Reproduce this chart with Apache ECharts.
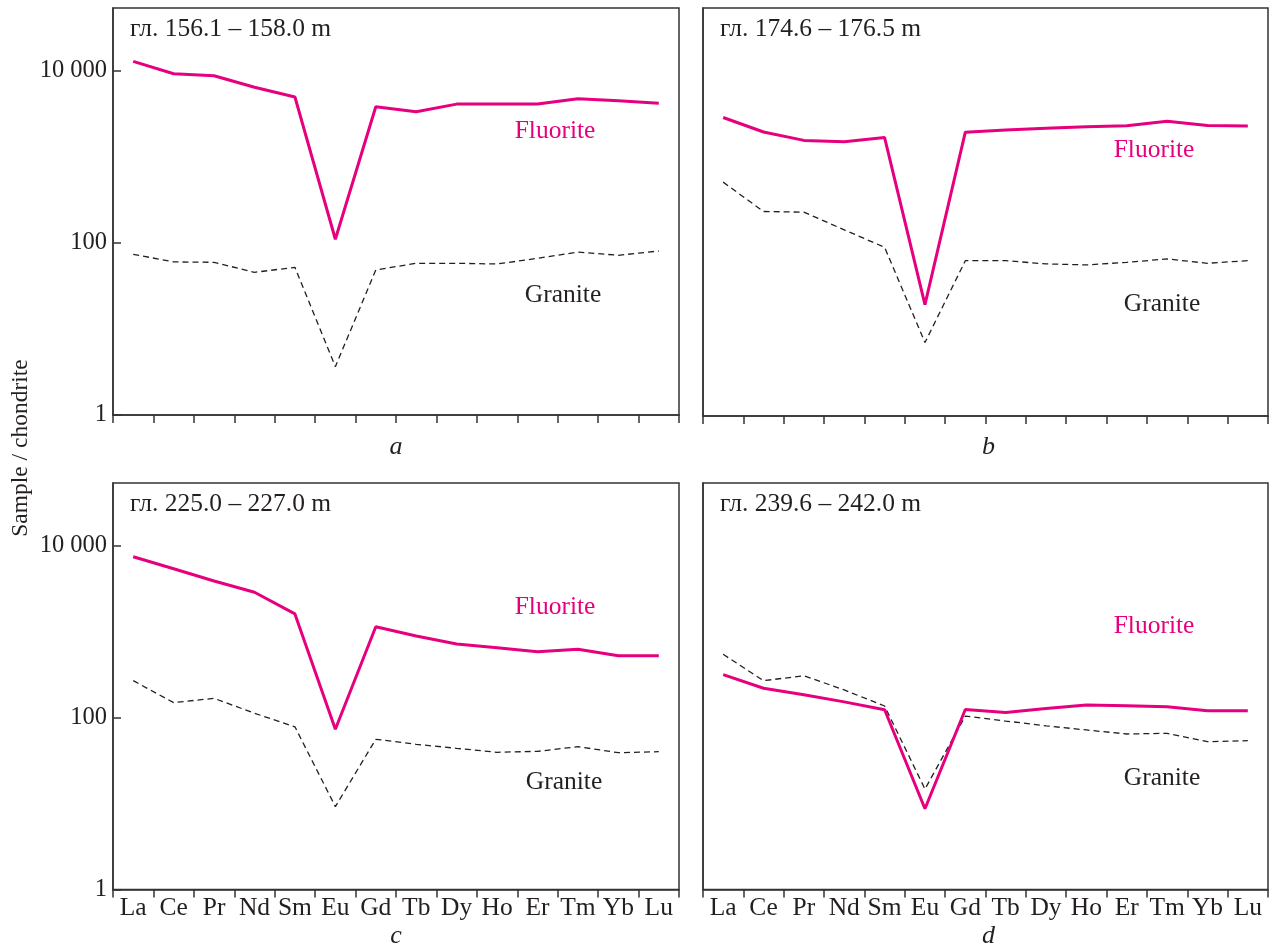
<!DOCTYPE html>
<html><head><meta charset="utf-8">
<script src="https://cdn.jsdelivr.net/npm/echarts@6/dist/echarts.min.js"></script>
<style>html,body{margin:0;padding:0;background:#fff}#c{width:1276px;height:950px}</style>
</head><body><div id="c"></div>
<script>
const categories = ['La','Ce','Pr','Nd','Sm','Eu','Gd','Tb','Dy','Ho','Er','Tm','Yb','Lu'];
const fluoriteA = [12800, 9200, 8700, 6400, 4930, 110, 3800, 3320, 4080, 4080, 4080, 4720, 4470, 4170];
const graniteA  = [73.5, 60, 59.3, 45.4, 51.9, 3.64, 48.3, 57.8, 57.8, 56.7, 66, 78, 71.6, 80.3];
const fluoriteB = [2870, 1950, 1560, 1500, 1680, 19.5, 1940, 2060, 2150, 2240, 2300, 2600, 2315, 2290];
const graniteB  = [512, 234, 230, 143.5, 90, 7.1, 63, 63, 57.8, 56.3, 60.3, 66, 58.8, 63];
const fluoriteC = [7400, 5370, 3870, 2860, 1600, 73, 1137, 887, 716, 648, 582, 621, 523, 523];
const graniteC  = [268, 149, 167, 112, 78, 9.2, 55.8, 48.8, 43.8, 39.4, 40.4, 45.8, 39, 40];
const fluoriteD = [315, 219, 184, 152, 123, 8.7, 124, 114, 127, 140, 137, 133, 120, 120];
const graniteD  = [543, 268, 306, 209, 136, 14.7, 104, 91, 80, 71.6, 64.3, 65.5, 52.3, 53.7];
const panelTitles = ['гл. 156.1 – 158.0 m', 'гл. 174.6 – 176.5 m', 'гл. 225.0 – 227.0 m', 'гл. 239.6 – 242.0 m'];
const panelLetters = ['a', 'b', 'c', 'd'];
const yTickLabels = [1, 100, 10000];

const FONT = '"Liberation Serif", "DejaVu Serif", serif';
const MAG = '#e6007e';
const INK = '#231f20';
const YMAX = 53300;

const grids = [
  {left: 113, top: 8, width: 566, height: 407},
  {left: 703, top: 8, width: 565, height: 408},
  {left: 113, top: 483, width: 566, height: 406.5},
  {left: 703, top: 483, width: 565, height: 406.5}
];
const fluor = [fluoriteA, fluoriteB, fluoriteC, fluoriteD];
const gran = [graniteA, graniteB, graniteC, graniteD];

function fmt(v){
  const r = Math.round(v);
  if (yTickLabels.indexOf(r) < 0) return '';
  return String(r).replace(/\B(?=(\d{3})+(?!\d))/g, ' ');
}

const option = {
  animation: false,
  backgroundColor: '#fff',
  grid: grids.map(g => Object.assign({show: true, borderColor: '#333', borderWidth: 1.5, backgroundColor: 'transparent'}, g)),
  xAxis: grids.map((g, i) => ({
    type: 'category', gridIndex: i, data: categories, boundaryGap: true,
    axisLine: {show: true, lineStyle: {color: '#333', width: 1.5}},
    axisTick: {show: true, inside: false, length: 8, lineStyle: {color: '#333', width: 1.5}},
    axisLabel: {show: i >= 2, interval: 0, margin: 6, fontFamily: FONT, fontSize: 25.5, color: INK},
    splitLine: {show: false}
  })),
  yAxis: grids.map((g, i) => ({
    type: 'log', gridIndex: i, logBase: 100, min: 1, max: YMAX,
    axisLine: {show: true, lineStyle: {color: '#333', width: 1.5}},
    axisTick: {show: i % 2 === 0, inside: true, length: 8, lineStyle: {color: '#333', width: 1.5}},
    axisLabel: {show: i % 2 === 0, showMaxLabel: false, margin: 6, fontFamily: FONT, fontSize: 24.5, color: INK, formatter: fmt},
    splitLine: {show: false}, minorTick: {show: false}
  })),
  series: [].concat(
    fluor.map((d, i) => ({type: 'line', xAxisIndex: i, yAxisIndex: i, data: d, symbol: 'none',
      lineStyle: {color: MAG, width: 3}, z: 3})),
    gran.map((d, i) => ({type: 'line', xAxisIndex: i, yAxisIndex: i, data: d, symbol: 'none',
      lineStyle: {color: INK, width: 1.3, type: [6, 4]}, z: 2}))
  ),
  graphic: [].concat(
    panelTitles.map((t, i) => ({type: 'text', left: grids[i].left + 17, top: grids[i].top + 8,
      style: {text: t, fontFamily: FONT, fontSize: 25.5, fill: INK}})),
    panelLetters.map((t, i) => ({type: 'text', x: grids[i].left + grids[i].width / 2 + (i % 2 ? 3 : 0), y: (i < 2 ? 447 : 936),
      style: {text: t, fontFamily: FONT, fontSize: 26, fontStyle: 'italic', fill: INK, align: 'center', verticalAlign: 'middle'}})),
    [
      {type: 'text', x: 555, y: 131, style: {text: 'Fluorite', fontFamily: FONT, fontSize: 25.5, fill: MAG, align: 'center', verticalAlign: 'middle'}},
      {type: 'text', x: 563, y: 295, style: {text: 'Granite', fontFamily: FONT, fontSize: 25.5, fill: INK, align: 'center', verticalAlign: 'middle'}},
      {type: 'text', x: 1154, y: 150, style: {text: 'Fluorite', fontFamily: FONT, fontSize: 25.5, fill: MAG, align: 'center', verticalAlign: 'middle'}},
      {type: 'text', x: 1162, y: 304, style: {text: 'Granite', fontFamily: FONT, fontSize: 25.5, fill: INK, align: 'center', verticalAlign: 'middle'}},
      {type: 'text', x: 555, y: 607, style: {text: 'Fluorite', fontFamily: FONT, fontSize: 25.5, fill: MAG, align: 'center', verticalAlign: 'middle'}},
      {type: 'text', x: 564, y: 782, style: {text: 'Granite', fontFamily: FONT, fontSize: 25.5, fill: INK, align: 'center', verticalAlign: 'middle'}},
      {type: 'text', x: 1154, y: 626, style: {text: 'Fluorite', fontFamily: FONT, fontSize: 25.5, fill: MAG, align: 'center', verticalAlign: 'middle'}},
      {type: 'text', x: 1162, y: 778, style: {text: 'Granite', fontFamily: FONT, fontSize: 25.5, fill: INK, align: 'center', verticalAlign: 'middle'}},
      {type: 'text', x: 21, y: 448, rotation: Math.PI / 2,
        style: {text: 'Sample / chondrite', fontFamily: FONT, fontSize: 23.5, fill: INK, align: 'center', verticalAlign: 'middle'}}
    ]
  )
};
const chart = echarts.init(document.getElementById('c'), null, {renderer: 'canvas'});
chart.setOption(option);
</script></body></html>
